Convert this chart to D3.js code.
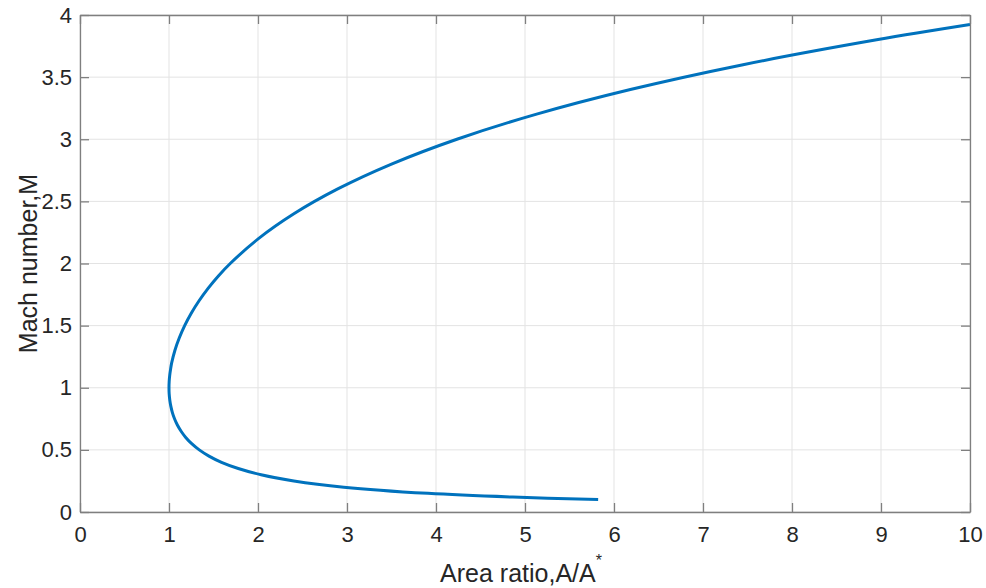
<!DOCTYPE html>
<html>
<head>
<meta charset="utf-8">
<script src="https://cdn.jsdelivr.net/npm/d3@7"></script>
<style>
  body { margin: 0; background: #fff; }
  svg { display: block; font-family: "Liberation Sans", Arial, sans-serif; }
</style>
</head>
<body>
<svg width="986" height="588"></svg>
<script>
// values (A/A* vs M)
var areaRatio = [5.822, 4.864, 3.910, 2.964, 2.403, 2.035, 1.778, 1.590, 1.449, 1.340,
	1.255, 1.188, 1.136, 1.094, 1.062, 1.038, 1.021, 1.009, 1.002, 1.000,
	1.002, 1.008, 1.018, 1.030, 1.066, 1.115, 1.176, 1.250, 1.338, 1.439,
	1.555, 1.688, 2.005, 2.403, 2.896, 3.500, 4.235, 5.121, 6.184, 7.450,
	8.951, 10.0];
var mach = [0.10, 0.12, 0.15, 0.20, 0.25, 0.30, 0.35, 0.40, 0.45, 0.50,
	0.55, 0.60, 0.65, 0.70, 0.75, 0.80, 0.85, 0.90, 0.95, 1.00,
	1.05, 1.10, 1.15, 1.20, 1.30, 1.40, 1.50, 1.60, 1.70, 1.80,
	1.90, 2.00, 2.20, 2.40, 2.60, 2.80, 3.00, 3.20, 3.40, 3.60,
	3.80, 3.923];
var xTicks = [0, 1, 2, 3, 4, 5, 6, 7, 8, 9, 10];
var yTicks = [0, 0.5, 1, 1.5, 2, 2.5, 3, 3.5, 4];

var svg = d3.select("svg");
var mLeft = 80, mRight = 970, mTop = 15, mBottom = 512;

var x = d3.scaleLinear().domain([0, 10]).range([mLeft, mRight]);
var y = d3.scaleLinear().domain([0, 4]).range([mBottom, mTop]);

// grid
svg.append("g").selectAll("line").data(xTicks).enter().append("line")
	.attr("x1", function (d) { return x(d); }).attr("x2", function (d) { return x(d); })
	.attr("y1", mTop).attr("y2", mBottom)
	.style("stroke", "#e3e3e3").style("stroke-width", 1);
svg.append("g").selectAll("line").data(yTicks).enter().append("line")
	.attr("y1", function (d) { return y(d); }).attr("y2", function (d) { return y(d); })
	.attr("x1", mLeft).attr("x2", mRight)
	.style("stroke", "#e3e3e3").style("stroke-width", 1);

// curve
var pts = areaRatio.map(function (a, i) { return [a, mach[i]]; });
var line = d3.line()
	.x(function (d) { return x(d[0]); })
	.y(function (d) { return y(d[1]); })
	.curve(d3.curveCatmullRom.alpha(0.5));
svg.append("path").datum(pts)
	.attr("d", line)
	.style("fill", "none")
	.style("stroke", "#0072bd")
	.style("stroke-width", 3);

// axes (inner ticks, box)
var fmt = d3.format("~g");
var xAxis = d3.axisBottom(x).tickValues(xTicks).tickFormat(fmt).tickSizeInner(-9).tickSizeOuter(0).tickPadding(14);
var yAxis = d3.axisLeft(y).tickValues(yTicks).tickFormat(fmt).tickSizeInner(-9).tickSizeOuter(0).tickPadding(8);
var xTop = d3.axisTop(x).tickValues(xTicks).tickSizeInner(-9).tickSizeOuter(0).tickFormat("");
var yRight = d3.axisRight(y).tickValues(yTicks).tickSizeInner(-9).tickSizeOuter(0).tickFormat("");

function styleAxis(g) {
	g.select(".domain").style("stroke", "#7f7f7f").style("stroke-width", 1.3);
	g.selectAll(".tick line").style("stroke", "#7f7f7f").style("stroke-width", 1.3);
	g.selectAll(".tick text").style("font-size", "22px").style("fill", "#262626")
		.style("font-family", "Liberation Sans, Arial, sans-serif");
}
svg.append("g").attr("transform", "translate(0," + mBottom + ")").call(xAxis).call(styleAxis);
svg.append("g").attr("transform", "translate(" + mLeft + ",0)").call(yAxis).call(styleAxis);
svg.append("g").attr("transform", "translate(0," + mTop + ")").call(xTop).call(styleAxis);
svg.append("g").attr("transform", "translate(" + mRight + ",0)").call(yRight).call(styleAxis);

// labels
var xl = svg.append("text")
	.attr("x", 521).attr("y", 582)
	.attr("text-anchor", "middle")
	.style("font-size", "25px").style("fill", "#262626");
xl.append("tspan").text("Area ratio,A/A");
xl.append("tspan").attr("dy", -16).style("font-size", "16px").text("*");

svg.append("text")
	.attr("transform", "translate(37," + ((mTop + mBottom) / 2) + ") rotate(-90)")
	.attr("text-anchor", "middle")
	.style("font-size", "25px").style("fill", "#262626")
	.text("Mach number,M");
</script>
</body>
</html>
